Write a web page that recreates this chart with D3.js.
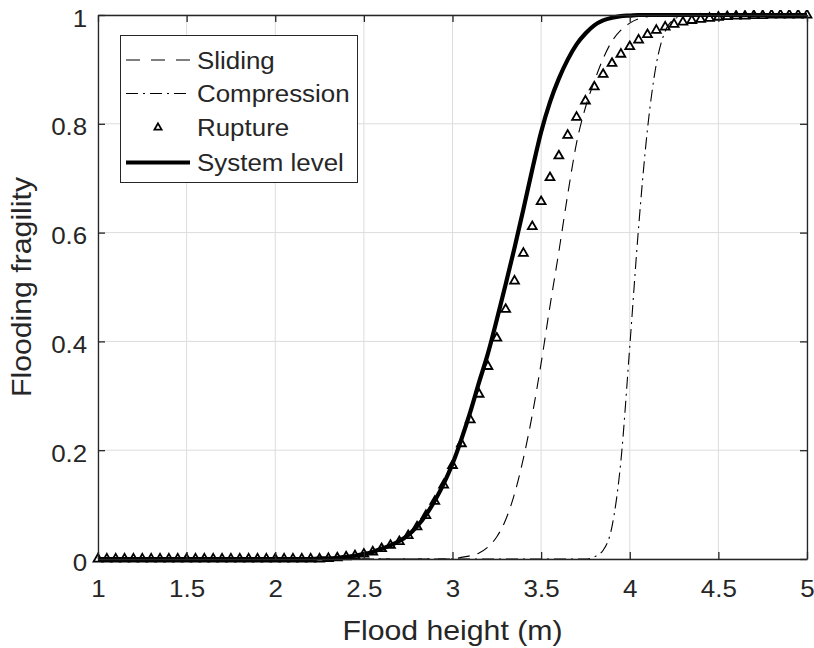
<!DOCTYPE html>
<html>
<head>
<meta charset="utf-8">
<script src="https://cdn.jsdelivr.net/npm/d3@7"></script>
<style>
  html, body { margin: 0; padding: 0; background: #fff; }
  svg { display: block; }
  text { font-family: "Liberation Sans", Arial, Helvetica, sans-serif; fill: #262626; }
</style>
</head>
<body>
<svg id="chart" width="814" height="648"></svg>
<script>
// ---------------- DATA ----------------
const xTicks = [1, 1.5, 2, 2.5, 3, 3.5, 4, 4.5, 5];
const xTickLabels = ["1", "1.5", "2", "2.5", "3", "3.5", "4", "4.5", "5"];
const yTicks = [0, 0.2, 0.4, 0.6, 0.8, 1];
const yTickLabels = ["0", "0.2", "0.4", "0.6", "0.8", "1"];
const seriesNames = ["Sliding", "Compression", "Rupture", "System level"];

// flood heights (m), sampled every 0.05 m
const floodHeight = [
  1.00, 1.05, 1.10, 1.15, 1.20, 1.25, 1.30, 1.35, 1.40, 1.45,
  1.50, 1.55, 1.60, 1.65, 1.70, 1.75, 1.80, 1.85, 1.90, 1.95,
  2.00, 2.05, 2.10, 2.15, 2.20, 2.25, 2.30, 2.35, 2.40, 2.45,
  2.50, 2.55, 2.60, 2.65, 2.70, 2.75, 2.80, 2.85, 2.90, 2.95,
  3.00, 3.05, 3.10, 3.15, 3.20, 3.25, 3.30, 3.35, 3.40, 3.45,
  3.50, 3.55, 3.60, 3.65, 3.70, 3.75, 3.80, 3.85, 3.90, 3.95,
  4.00, 4.05, 4.10, 4.15, 4.20, 4.25, 4.30, 4.35, 4.40, 4.45,
  4.50, 4.55, 4.60, 4.65, 4.70, 4.75, 4.80, 4.85, 4.90, 4.95,
  5.00
];

const sliding = [
  0, 0, 0, 0, 0, 0, 0, 0, 0, 0,
  0, 0, 0, 0, 0, 0, 0, 0, 0, 0,
  0, 0, 0, 0, 0, 0, 0, 0, 0, 0,
  0, 0, 0, 0, 0, 0, 0, 0, 0, 0,
  0, 0.003, 0.006, 0.011, 0.022, 0.041, 0.072, 0.120, 0.185, 0.265,
  0.360, 0.465, 0.565, 0.670, 0.765, 0.830, 0.878, 0.920, 0.952, 0.972,
  0.985, 0.993, 0.997, 0.999, 1, 1, 1, 1, 1, 1,
  1, 1, 1, 1, 1, 1, 1, 1, 1, 1,
  1
];

const compression = [
  0, 0, 0, 0, 0, 0, 0, 0, 0, 0,
  0, 0, 0, 0, 0, 0, 0, 0, 0, 0,
  0, 0, 0, 0, 0, 0, 0, 0, 0, 0,
  0, 0, 0, 0, 0, 0, 0, 0, 0, 0,
  0, 0, 0, 0, 0, 0, 0, 0, 0, 0,
  0, 0, 0, 0, 0, 0, 0.004, 0.016, 0.060, 0.180,
  0.390, 0.610, 0.790, 0.910, 0.970, 0.992, 0.998, 1, 1, 1,
  1, 1, 1, 1, 1, 1, 1, 1, 1, 1,
  1
];

const rupture = [
  0, 0, 0, 0, 0, 0, 0, 0, 0, 0,
  0, 0, 0, 0, 0, 0, 0, 0, 0, 0,
  0, 0, 0, 0, 0, 0, 0.001, 0.002, 0.004, 0.006,
  0.009, 0.013, 0.019, 0.025, 0.032, 0.043, 0.059, 0.080, 0.106, 0.136,
  0.172, 0.212, 0.256, 0.303, 0.354, 0.406, 0.459, 0.511, 0.562, 0.611,
  0.657, 0.701, 0.741, 0.779, 0.812, 0.842, 0.868, 0.891, 0.911, 0.928,
  0.942, 0.954, 0.964, 0.972, 0.978, 0.983, 0.987, 0.990, 0.992, 0.994,
  0.996, 0.997, 0.998, 0.998, 0.999, 0.999, 1, 1, 1, 1,
  1
];

const systemLevel = [
  0, 0, 0, 0, 0, 0, 0, 0, 0, 0,
  0, 0, 0, 0, 0, 0, 0, 0, 0, 0,
  0, 0, 0, 0, 0, 0.001, 0.001, 0.002, 0.004, 0.006,
  0.009, 0.013, 0.019, 0.025, 0.033, 0.044, 0.060, 0.081, 0.107, 0.138,
  0.175, 0.220, 0.270, 0.325, 0.378, 0.440, 0.505, 0.572, 0.643, 0.716,
  0.785, 0.840, 0.883, 0.918, 0.946, 0.966, 0.981, 0.990, 0.995, 0.998,
  0.999, 1, 1, 1, 1, 1, 1, 1, 1, 1,
  1, 1, 1, 1, 1, 1, 1, 1, 1, 1,
  1
];

// ---------------- LAYOUT ----------------
const svg = d3.select("#chart");
const L = 98, R = 807, T = 15, B = 559;
const SX = 1.08; // horizontal text stretch seen in the reference
const x = d3.scaleLinear().domain([1, 5]).range([L, R]);
const y = d3.scaleLinear().domain([0, 1]).range([B, T]);
const axisColor = "#262626";

// grid
const grid = svg.append("g");
grid.selectAll("line.gx").data(xTicks).join("line")
  .attr("x1", d => x(d)).attr("x2", d => x(d)).attr("y1", T).attr("y2", B)
  .attr("stroke", "#dcdcdc").attr("stroke-width", 1);
grid.selectAll("line.gy").data(yTicks).join("line")
  .attr("x1", L).attr("x2", R).attr("y1", d => y(d)).attr("y2", d => y(d))
  .attr("stroke", "#dcdcdc").attr("stroke-width", 1);

// clip
svg.append("clipPath").attr("id", "clip").append("rect")
  .attr("x", L - 6).attr("y", T - 5).attr("width", R - L + 12).attr("height", B - T + 10);

const plot = svg.append("g").attr("clip-path", "url(#clip)");
const pts = arr => floodHeight.map((h, i) => [h, arr[i]]);
const line = d3.line().x(d => x(d[0])).y(d => y(d[1])).curve(d3.curveMonotoneX);

plot.append("path").datum(pts(sliding)).attr("d", line)
  .attr("fill", "none").attr("stroke", "#000").attr("stroke-width", 1.1)
  .attr("stroke-dasharray", "12,8");
plot.append("path").datum(pts(compression)).attr("d", line)
  .attr("fill", "none").attr("stroke", "#000").attr("stroke-width", 1.1)
  .attr("stroke-dasharray", "12,5,2,5");

const tri = d3.symbol().type(d3.symbolTriangle).size(34);
const triLeg = d3.symbol().type(d3.symbolTriangle).size(22);
plot.selectAll("path.rup").data(pts(rupture)).join("path")
  .attr("class", "rup")
  .attr("transform", d => `translate(${x(d[0])},${y(d[1])})`)
  .attr("d", tri)
  .attr("fill", "none").attr("stroke", "#000").attr("stroke-width", 1.8);

plot.append("path").datum(pts(systemLevel)).attr("d", line)
  .attr("fill", "none").attr("stroke", "#000").attr("stroke-width", 4.2)
  .attr("stroke-linejoin", "round");

// axes
const tickLen = 7;
const gB = svg.append("g").attr("transform", `translate(0,${B})`)
  .call(d3.axisBottom(x).tickValues(xTicks).tickFormat((d, i) => xTickLabels[i])
    .tickSizeInner(-tickLen).tickSizeOuter(0).tickPadding(21));
const gT = svg.append("g").attr("transform", `translate(0,${T})`)
  .call(d3.axisTop(x).tickValues(xTicks).tickFormat("")
    .tickSizeInner(-tickLen).tickSizeOuter(0));
const gL = svg.append("g").attr("transform", `translate(${L},0)`)
  .call(d3.axisLeft(y).tickValues(yTicks).tickFormat((d, i) => yTickLabels[i])
    .tickSizeInner(-tickLen).tickSizeOuter(0).tickPadding(10));
const gR = svg.append("g").attr("transform", `translate(${R},0)`)
  .call(d3.axisRight(y).tickValues(yTicks).tickFormat("")
    .tickSizeInner(-tickLen).tickSizeOuter(0));

[gB, gT, gL, gR].forEach(g => {
  g.select(".domain").attr("stroke", axisColor).attr("stroke-width", 1.3);
  g.selectAll(".tick line").attr("stroke", axisColor).attr("stroke-width", 1.3);
});
[gB, gL].forEach(g => {
  g.selectAll(".tick text")
    .attr("font-family", "'Liberation Sans', Arial, sans-serif")
    .attr("font-size", 24).attr("fill", axisColor)
    .attr("transform", `scale(${SX},1)`);
});
gL.selectAll(".tick text").attr("dy", "0.46em");

// axis titles
svg.append("text")
  .attr("transform", `translate(${(L + R) / 2},640) scale(${SX},1)`)
  .attr("text-anchor", "middle").attr("font-size", 28).text("Flood height (m)");
svg.append("text")
  .attr("transform", `translate(31,${(T + B) / 2}) rotate(-90) scale(${SX},1)`)
  .attr("text-anchor", "middle").attr("font-size", 28).text("Flooding fragility");

// legend
const leg = svg.append("g");
leg.append("rect").attr("x", 120.5).attr("y", 35.5).attr("width", 237).attr("height", 147)
  .attr("fill", "#fff").attr("stroke", "#262626").attr("stroke-width", 1);
const rowY = [60, 93.5, 127.5, 162.5];
const lx1 = 126, lx2 = 190, tx = 197;
leg.append("line").attr("x1", lx1).attr("x2", lx2).attr("y1", rowY[0]).attr("y2", rowY[0])
  .attr("stroke", "#000").attr("stroke-width", 1.1).attr("stroke-dasharray", "14,11");
leg.append("line").attr("x1", lx1).attr("x2", lx2).attr("y1", rowY[1]).attr("y2", rowY[1])
  .attr("stroke", "#000").attr("stroke-width", 1.1).attr("stroke-dasharray", "12,5,2,5");
leg.append("path").attr("transform", `translate(${(lx1 + lx2) / 2},${rowY[2]})`)
  .attr("d", triLeg).attr("fill", "none").attr("stroke", "#000").attr("stroke-width", 1.8);
leg.append("line").attr("x1", lx1).attr("x2", lx2).attr("y1", rowY[3]).attr("y2", rowY[3])
  .attr("stroke", "#000").attr("stroke-width", 4.2);
seriesNames.forEach((n, i) => {
  leg.append("text")
    .attr("transform", `translate(${tx},${rowY[i] + 8.5}) scale(${SX},1)`)
    .attr("font-size", 24).attr("fill", "#000").text(n);
});
</script>
</body>
</html>
